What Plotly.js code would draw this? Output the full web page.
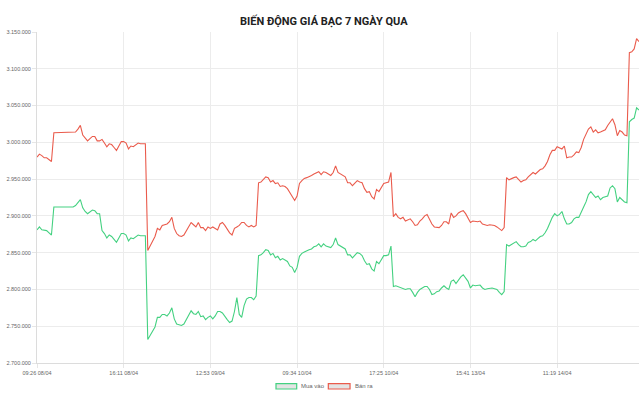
<!DOCTYPE html>
<html>
<head>
<meta charset="utf-8">
<script src="https://cdn.plot.ly/plotly-3.0.1.min.js"></script>
<style>
html,body{margin:0;padding:0;background:#fff;}
#chart{width:640px;height:398px;}
</style>
</head>
<body>
<div id="chart"></div>
<script>
// Tick labels shown on the time axis (category positions of every 36th sample)
var tickLabels = ["09:26 08/04", "16:11 08/04", "12:53 09/04", "09:34 10/04", "17:25 10/04", "15:41 13/04", "11:19 14/04"];
var tickIndex = [0, 36, 72, 108, 144, 180, 216];

// Series names
var seriesBuy = "Mua vào";
var seriesSell = "Bán ra";

// Buy price (VND)
var buyValues = [
2881000,2885000,2881000,2880000,2880000,2877000,2874000,2912000,2912000,2912000,
2912000,2912000,2912000,2912000,2912000,2912000,2914000,2918000,2922000,2911000,
2906000,2903000,2906000,2908000,2907000,2903000,2903000,2880000,2876000,2870000,
2874000,2872000,2868000,2864000,2870000,2876000,2876000,2874000,2866000,2870000,
2869000,2872000,2874000,2873000,2873000,2873000,2732000,2738000,2745000,2749000,
2762000,2762000,2766000,2766000,2764000,2768000,2775000,2760000,2753000,2752000,
2751000,2753000,2759000,2764000,2771000,2767000,2766000,2770000,2763000,2764000,
2759000,2762000,2764000,2760000,2764000,2770000,2770000,2768000,2763000,2759000,
2755000,2757000,2770000,2789000,2766000,2762000,2778000,2787000,2789000,2789000,
2786000,2791000,2846000,2847000,2850000,2854000,2853000,2847000,2849000,2843000,
2845000,2840000,2842000,2840000,2838000,2832000,2830000,2823000,2830000,2845000,
2849000,2851000,2853000,2854000,2855000,2858000,2859000,2862000,2858000,2862000,
2859000,2858000,2857000,2861000,2870000,2861000,2859000,2857000,2855000,2847000,
2847000,2843000,2846000,2850000,2849000,2846000,2839000,2834000,2835000,2828000,
2825000,2838000,2835000,2840000,2846000,2846000,2847000,2859000,2804000,2805000,
2804000,2802000,2802000,2800000,2801000,2801000,2796000,2790000,2796000,2800000,
2802000,2804000,2804000,2800000,2793000,2794000,2797000,2798000,2802000,2805000,
2802000,2800000,2811000,2813000,2808000,2813000,2817000,2820000,2816000,2811000,
2802000,2806000,2805000,2805000,2806000,2802000,2800000,2801000,2802000,2802000,
2801000,2800000,2796000,2793000,2797000,2861000,2859000,2861000,2864000,2865000,
2861000,2858000,2858000,2859000,2864000,2865000,2868000,2866000,2869000,2872000,
2873000,2877000,2883000,2891000,2898000,2903000,2900000,2902000,2906000,2896000,
2889000,2889000,2891000,2896000,2898000,2898000,2904000,2912000,2919000,2929000,
2933000,2929000,2925000,2927000,2922000,2925000,2926000,2927000,2938000,2941000,
2937000,2919000,2925000,2922000,2919000,2918000,3028000,3031000,3033000,3047000,
3044000
];

// Sell price (VND)
var sellValues = [
2980000,2984000,2982000,2979000,2979000,2976000,2974000,3013000,3013000,3013000,
3013000,3013000,3013000,3013000,3013000,3013000,3014000,3018000,3023000,3010000,
3006000,3002000,3005000,3008000,3008000,3002000,3002000,3004000,2999000,2994000,
2998000,2997000,2993000,2989000,2995000,3001000,3001000,2999000,2991000,2995000,
2994000,2997000,2999000,2998000,2998000,2998000,2853000,2859000,2866000,2872000,
2883000,2881000,2887000,2888000,2889000,2892000,2898000,2883000,2876000,2873000,
2872000,2874000,2880000,2885000,2891000,2888000,2885000,2891000,2884000,2884000,
2880000,2885000,2883000,2885000,2883000,2881000,2889000,2891000,2887000,2881000,
2877000,2874000,2883000,2885000,2887000,2891000,2891000,2887000,2885000,2887000,
2885000,2887000,2945000,2946000,2949000,2953000,2952000,2946000,2948000,2944000,
2945000,2940000,2941000,2940000,2937000,2932000,2927000,2921000,2927000,2944000,
2948000,2951000,2952000,2953000,2955000,2957000,2959000,2960000,2956000,2960000,
2959000,2957000,2955000,2959000,2968000,2959000,2957000,2955000,2953000,2945000,
2945000,2941000,2944000,2948000,2946000,2945000,2937000,2932000,2933000,2926000,
2923000,2936000,2933000,2938000,2944000,2945000,2946000,2959000,2899000,2903000,
2898000,2896000,2898000,2893000,2895000,2896000,2892000,2887000,2888000,2893000,
2896000,2900000,2902000,2895000,2889000,2885000,2884000,2884000,2887000,2892000,
2892000,2889000,2904000,2898000,2900000,2904000,2906000,2907000,2903000,2896000,
2891000,2893000,2892000,2892000,2893000,2889000,2888000,2887000,2888000,2888000,
2887000,2885000,2883000,2880000,2884000,2952000,2949000,2951000,2952000,2953000,
2949000,2946000,2948000,2949000,2953000,2956000,2959000,2957000,2960000,2963000,
2964000,2968000,2974000,2983000,2989000,2989000,2994000,2993000,2991000,2995000,
2979000,2980000,2980000,2983000,2987000,2986000,2993000,3004000,3012000,3018000,
3021000,3014000,3017000,3013000,3014000,3016000,3017000,3023000,3028000,3032000,
3024000,3009000,3016000,3014000,3010000,3009000,3122000,3123000,3127000,3141000,
3137000
];

// Axis range / ticks
var yMin = 2700000, yMax = 3150000, yStep = 50000;

var xPos = [];
for (var i = 0; i < sellValues.length; i++) xPos.push(i);

var greenColor = "#44d181";
var redColor = "#ea5b4c";
var tickFont = {family: "Liberation Sans, Arial, sans-serif", size: 5.5, color: "#666"};

var traces = [
  {x: xPos, y: buyValues, name: seriesBuy, type: "scatter", mode: "lines",
   line: {color: greenColor, width: 1.1}, hoverinfo: "skip"},
  {x: xPos, y: sellValues, name: seriesSell, type: "scatter", mode: "lines",
   line: {color: redColor, width: 1.1}, hoverinfo: "skip"}
];

var layout = {
  width: 640, height: 398,
  margin: {l: 37, r: 1, t: 32, b: 35, pad: 0},
  paper_bgcolor: "#fff", plot_bgcolor: "#fff",
  separators: ",.",
  showlegend: false,
  title: {
    text: "BIẾN ĐỘNG GIÁ BẠC 7 NGÀY QUA",
    font: {family: "Liberation Sans Narrow, Arial Narrow, Roboto, sans-serif", size: 11, color: "#222", weight: "bold"},
    x: 0.506, xanchor: "center", xref: "container",
    y: 1 - 21/398, yanchor: "middle", yref: "container"
  },
  xaxis: {
    range: [0, sellValues.length - 1],
    tickmode: "array", tickvals: tickIndex, ticktext: tickLabels,
    showgrid: true, gridcolor: "#ececec", gridwidth: 1,
    showline: true, linecolor: "#dcdcdc", linewidth: 1,
    zeroline: false,
    ticks: "outside", ticklen: 4, tickcolor: "#e6e6e6",
    tickfont: tickFont, fixedrange: true
  },
  yaxis: {
    range: [yMin, yMax], tick0: yMin, dtick: yStep, tickformat: ",d",
    showgrid: true, gridcolor: "#ececec", gridwidth: 1,
    showline: true, linecolor: "#dcdcdc", linewidth: 1,
    zeroline: false,
    ticks: "outside", ticklen: 4, tickcolor: "#e6e6e6",
    tickfont: tickFont, fixedrange: true
  },
  shapes: [
    {type: "rect", xref: "paper", yref: "paper", x0: 0.397, x1: 0.4314, y0: -0.0785, y1: -0.0625,
     fillcolor: "#e4e4e4", line: {color: greenColor, width: 1.2}},
    {type: "rect", xref: "paper", yref: "paper", x0: 0.4839, x1: 0.52, y0: -0.0785, y1: -0.0625,
     fillcolor: "#e4e4e4", line: {color: redColor, width: 1.2}}
  ],
  annotations: [
    {text: seriesBuy, xref: "paper", yref: "paper", x: 0.4357, y: -0.0705, xanchor: "left", yanchor: "middle",
     showarrow: false, font: {family: "Liberation Sans, Arial, sans-serif", size: 6, color: "#666"}},
    {text: seriesSell, xref: "paper", yref: "paper", x: 0.5249, y: -0.0705, xanchor: "left", yanchor: "middle",
     showarrow: false, font: {family: "Liberation Sans, Arial, sans-serif", size: 6, color: "#666"}}
  ]
};

Plotly.newPlot("chart", traces, layout, {displayModeBar: false, staticPlot: true});
</script>
</body>
</html>
